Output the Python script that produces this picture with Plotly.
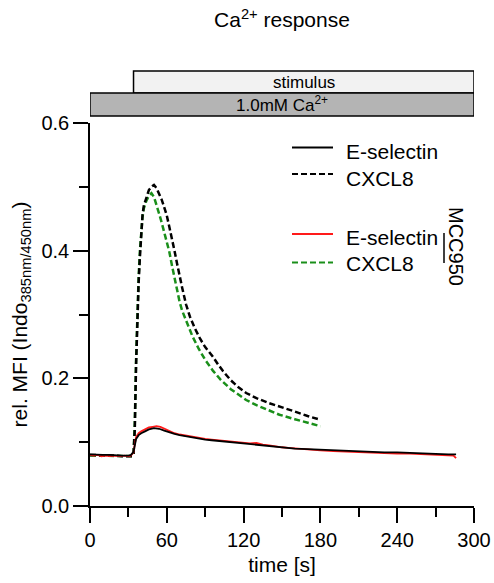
import plotly.graph_objects as go

# ---------------- data ----------------
title_text = "Ca<sup>2+</sup> response"
x_label = "time [s]"
y_label = "rel. MFI (Indo<sub>385nm/450nm</sub>)"

x_ticks = [0, 60, 120, 180, 240, 300]
x_minor = [30, 90, 150, 210, 270]
y_ticks = [0.0, 0.2, 0.4, 0.6]
y_minor = [0.1, 0.3, 0.5]

stim_span = [34, 300]
ca_span = [0, 300]
stim_label = "stimulus"
ca_label = "1.0mM Ca<sup>2+</sup>"
group_label = "MCC950"

# E-selectin (control) - black solid
t_esel = [0, 5, 10, 15, 20, 25, 30, 32, 34, 35, 36, 38, 40, 43, 46, 50, 54, 58, 62, 66,
          70, 75, 80, 85, 90, 95, 100, 110, 120, 130, 140, 150, 160, 170, 180, 190, 200,
          210, 220, 230, 240, 250, 260, 270, 280, 286]
v_esel = [0.081, 0.080, 0.080, 0.080, 0.079, 0.079, 0.079, 0.080, 0.085, 0.095, 0.105,
          0.111, 0.114, 0.117, 0.120, 0.122, 0.121, 0.118, 0.115, 0.113, 0.111, 0.109,
          0.107, 0.106, 0.104, 0.103, 0.102, 0.100, 0.098, 0.096, 0.093, 0.091, 0.090,
          0.089, 0.088, 0.087, 0.086, 0.085, 0.085, 0.084, 0.084, 0.083, 0.082, 0.082,
          0.081, 0.081]

# CXCL8 (control) - black dashed
t_cxcl8 = [0, 5, 10, 15, 20, 25, 30, 33, 34, 35, 36, 37, 38, 39, 40, 41, 42, 44, 46, 48,
           50, 52, 54, 56, 58, 60, 62, 64, 66, 68, 70, 72, 75, 78, 82, 86, 90, 96, 100,
           104, 110, 116, 122, 130, 140, 148, 160, 170, 180]
v_cxcl8 = [0.080, 0.080, 0.079, 0.079, 0.079, 0.078, 0.078, 0.078, 0.080, 0.120, 0.220,
           0.300, 0.350, 0.390, 0.430, 0.455, 0.470, 0.483, 0.495, 0.500, 0.503, 0.498,
           0.490, 0.480, 0.468, 0.455, 0.437, 0.420, 0.400, 0.380, 0.360, 0.342, 0.316,
           0.297, 0.278, 0.262, 0.249, 0.234, 0.222, 0.211, 0.197, 0.186, 0.177, 0.169,
           0.161, 0.156, 0.148, 0.141, 0.135]

# E-selectin + MCC950 - red solid
t_esel_mcc = [0, 3, 6, 9, 12, 15, 18, 21, 24, 27, 30, 32, 34, 35, 36, 38, 40, 43, 46, 49,
              52, 55, 58, 62, 66, 70, 75, 80, 85, 90, 95, 100, 105, 110, 115, 120, 125,
              130, 135, 140, 145, 150, 155, 160, 165, 170, 180, 190, 200, 210, 220, 230,
              240, 250, 260, 270, 280, 284, 286]
v_esel_mcc = [0.080, 0.079, 0.080, 0.078, 0.079, 0.078, 0.079, 0.078, 0.078, 0.079,
              0.078, 0.079, 0.084, 0.097, 0.108, 0.114, 0.117, 0.120, 0.123, 0.124, 0.125,
              0.124, 0.121, 0.117, 0.114, 0.112, 0.110, 0.108, 0.107, 0.105, 0.104, 0.103,
              0.102, 0.101, 0.100, 0.100, 0.098, 0.099, 0.096, 0.095, 0.093, 0.092, 0.091,
              0.090, 0.089, 0.089, 0.087, 0.086, 0.085, 0.084, 0.083, 0.083, 0.082, 0.082,
              0.081, 0.081, 0.080, 0.079, 0.075]

# CXCL8 + MCC950 - green dashed
t_cxcl8_mcc = [0, 5, 10, 15, 20, 25, 30, 33, 34, 35, 36, 37, 38, 39, 40, 41, 42, 44, 46,
               48, 50, 52, 54, 56, 58, 60, 62, 64, 66, 68, 70, 72, 75, 80, 85, 90, 96, 102,
               110, 116, 122, 130, 140, 148, 160, 170, 180]
v_cxcl8_mcc = [0.079, 0.079, 0.079, 0.078, 0.078, 0.078, 0.078, 0.078, 0.080, 0.130,
               0.230, 0.310, 0.360, 0.400, 0.430, 0.452, 0.466, 0.478, 0.486, 0.490, 0.484,
               0.472, 0.458, 0.444, 0.430, 0.416, 0.398, 0.377, 0.356, 0.337, 0.320, 0.306,
               0.290, 0.266, 0.246, 0.229, 0.212, 0.198, 0.183, 0.174, 0.166, 0.158, 0.150,
               0.143, 0.136, 0.130, 0.125]

series_names = ["E-selectin", "CXCL8", "E-selectin", "CXCL8"]

# ---------------- figure ----------------
W, H = 494, 583
ML, MR, MT, MB = 90, 20, 123, 77
PW, PH = W - ML - MR, H - MT - MB
FONT = "Liberation Sans, Arial, sans-serif"

RED = "#ff1a1a"
GREEN = "#1a8f1a"
DASH = "6px,3px"


def px(xp):
    return (xp - ML) / PW


def py(yp):
    return (H - MB - yp) / PH


fig = go.Figure()
fig.add_trace(go.Scatter(x=t_cxcl8_mcc, y=v_cxcl8_mcc, mode="lines", name=series_names[3],
                         line=dict(color=GREEN, width=2.5, dash=DASH)))
fig.add_trace(go.Scatter(x=t_cxcl8, y=v_cxcl8, mode="lines", name=series_names[1],
                         line=dict(color="black", width=2.5, dash=DASH)))
fig.add_trace(go.Scatter(x=t_esel_mcc, y=v_esel_mcc, mode="lines", name=series_names[2],
                         line=dict(color=RED, width=1.8)))
fig.add_trace(go.Scatter(x=t_esel, y=v_esel, mode="lines", name=series_names[0],
                         line=dict(color="black", width=1.8)))

axis_common = dict(showline=True, linecolor="black", linewidth=1.5, ticks="outside",
                   ticklen=15, tickwidth=1.5, tickcolor="black", showgrid=False,
                   zeroline=False, automargin=False,
                   tickfont=dict(size=20, color="black", family=FONT))

fig.update_xaxes(range=[0, 300], tickvals=x_ticks,
                 minor=dict(tickvals=x_minor, ticks="outside", ticklen=9, tickwidth=1.5,
                            tickcolor="black"),
                 title=dict(text=x_label, font=dict(size=21, color="black", family=FONT),
                            standoff=8),
                 **axis_common)
fig.update_yaxes(range=[0, 0.6], tickvals=y_ticks, tickformat=".1f",
                 minor=dict(tickvals=y_minor, ticks="outside", ticklen=9, tickwidth=1.5,
                            tickcolor="black"),
                 title=dict(text=y_label, font=dict(size=21, color="black", family=FONT),
                            standoff=8),
                 **axis_common)

shapes = []
annotations = []

# top bars
shapes.append(dict(type="rect", xref="x", yref="paper", x0=stim_span[0], x1=stim_span[1],
                   y0=py(93), y1=py(71), fillcolor="#f2f2f2",
                   line=dict(color="black", width=1.5), layer="above"))
shapes.append(dict(type="rect", xref="x", yref="paper", x0=ca_span[0], x1=ca_span[1],
                   y0=py(116), y1=py(93), fillcolor="#b4b4b4",
                   line=dict(color="black", width=1.5), layer="above"))
annotations.append(dict(text=stim_label, xref="x", yref="paper",
                        x=sum(stim_span) / 2, y=py(82), showarrow=False,
                        xanchor="center", yanchor="middle",
                        font=dict(size=17, color="black", family=FONT)))
annotations.append(dict(text=ca_label, xref="x", yref="paper",
                        x=sum(ca_span) / 2, y=py(104.5), showarrow=False,
                        xanchor="center", yanchor="middle",
                        font=dict(size=17, color="black", family=FONT)))

# custom legend
leg_rows = [(147.5, 151, "black", None), (174, 178, "black", DASH),
            (234, 237, RED, None), (262.5, 263, GREEN, DASH)]
for (ly, ty, col, dash), name in zip(leg_rows, series_names):
    ln = dict(color=col, width=2)
    if dash:
        ln["dash"] = dash
    shapes.append(dict(type="line", xref="paper", yref="paper", x0=px(292), x1=px(333),
                       y0=py(ly), y1=py(ly), line=ln))
    annotations.append(dict(text=name, xref="paper", yref="paper", x=px(344), y=py(ty),
                            xanchor="left", yanchor="middle", showarrow=False,
                            font=dict(size=21, color="black", family=FONT)))

# MCC950 bracket
shapes.append(dict(type="line", xref="paper", yref="paper", x0=px(444), x1=px(444),
                   y0=py(233), y1=py(263), line=dict(color="black", width=1.5)))
annotations.append(dict(text=group_label, xref="paper", yref="paper", x=px(456),
                        y=py(246), textangle=90, showarrow=False, xanchor="center",
                        yanchor="middle",
                        font=dict(size=20, color="black", family=FONT)))

fig.update_layout(
    width=W, height=H,
    margin=dict(l=ML, r=MR, t=MT, b=MB, autoexpand=False),
    paper_bgcolor="white", plot_bgcolor="white",
    showlegend=False,
    font=dict(family=FONT, color="black"),
    title=dict(text=title_text, x=px(282), xanchor="center", xref="paper",
               y=1 - 20 / H, yref="container", yanchor="middle",
               font=dict(size=21, color="black", family=FONT)),
    shapes=shapes, annotations=annotations,
)

fig.write_html("out.html",
               config={"displayModeBar": False},
               post_script="document.body.style.margin='0';"
                           "document.body.style.overflow='hidden';")
